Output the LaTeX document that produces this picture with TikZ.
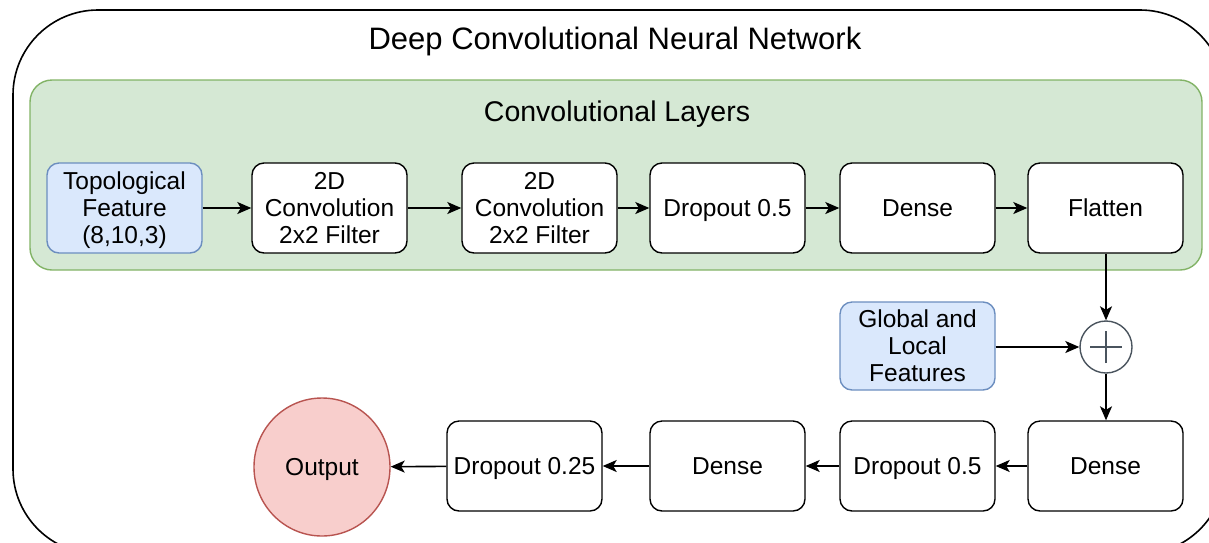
\documentclass[tikz,border=0pt]{standalone}
\usepackage{fontspec}
\setmainfont{Liberation Sans}
\usetikzlibrary{arrows.meta,shapes.geometric}
\definecolor{gfill}{HTML}{D5E8D4}
\definecolor{gline}{HTML}{82B366}
\definecolor{bfill}{HTML}{DAE8FC}
\definecolor{bline}{HTML}{6C8EBF}
\definecolor{rfill}{HTML}{F8CECC}
\definecolor{rline}{HTML}{B85450}
\definecolor{pline}{HTML}{4A545E}
\newcommand{\boxfont}{\fontsize{24.5}{27}\selectfont}
\begin{document}
\begin{tikzpicture}[x=1pt,y=-1pt,
  box/.style={draw=black,line width=1.4pt,rounded corners=12pt,fill=white,
    minimum width=155pt,minimum height=90pt,inner sep=0pt,align=center,font=\boxfont,
    text depth=-4pt},
  bluebox/.style={box,fill=bfill,draw=bline},
  arr/.style={-{Stealth[length=14pt,width=12pt,inset=3.5pt]},line width=1.6pt},
]
\useasboundingbox (0,0) rectangle (1209,542);
\begin{scope}
\clip (0,0) rectangle (1209,542);
\draw[line width=1.6pt,rounded corners=85pt] (13,10) rectangle (1225,554);
\end{scope}
\draw[fill=gfill,draw=gline,line width=1.4pt,rounded corners=22pt] (30,80) rectangle (1202,270);
\node[font=\fontsize{31}{34}\selectfont] (title) at (615,41) {Deep Convolutional Neural Network};
\node[font=\fontsize{28.5}{32}\selectfont] (layers) at (617,114) {Convolutional Layers};

\node[bluebox] (topo) at (124.5,208) {Topological\\Feature\\(8,10,3)};
\node[box] (conv1) at (329.5,208) {2D\\Convolution\\2x2 Filter};
\node[box] (conv2) at (539.5,208) {2D\\Convolution\\2x2 Filter};
\node[box] (drop1) at (727.5,208) {Dropout 0.5};
\node[box] (dense1) at (917.5,208) {Dense};
\node[box] (flat) at (1105.5,208) {Flatten};

\node[bluebox,minimum height=88pt] (glob) at (917.5,346) {Global and\\Local\\Features};
\node[circle,draw=pline,line width=1.4pt,fill=white,minimum size=52pt,inner sep=0pt] (plus) at (1106,347) {};
\draw[pline,line width=1.4pt] ([xshift=-16pt]plus.center) -- ([xshift=16pt]plus.center);
\draw[pline,line width=1.4pt] ([yshift=-16pt]plus.center) -- ([yshift=16pt]plus.center);

\node[box] (dense2) at (1105.5,466) {Dense};
\node[box] (drop2) at (917.5,466) {Dropout 0.5};
\node[box] (dense3) at (727.5,466) {Dense};
\node[box] (drop3) at (524.5,466) {Dropout 0.25};
\node[ellipse,draw=rline,fill=rfill,line width=1.4pt,minimum width=136pt,minimum height=138pt,inner sep=0pt,font=\boxfont,text depth=-4pt] (out) at (322,467) {Output};

\draw[arr] (topo) -- (conv1);
\draw[arr] (conv1) -- (conv2);
\draw[arr] (conv2) -- (drop1);
\draw[arr] (drop1) -- (dense1);
\draw[arr] (dense1) -- (flat);
\draw[arr] (flat.south -| plus.north) -- (plus.north);
\draw[arr] (glob.east |- plus.west) -- (plus.west);
\draw[arr] (plus.south) -- (plus.south |- dense2.north);
\draw[arr] (dense2) -- (drop2);
\draw[arr] (drop2) -- (dense3);
\draw[arr] (dense3) -- (drop3);
\draw[arr] (drop3) -- (out);
\end{tikzpicture}
\end{document}
